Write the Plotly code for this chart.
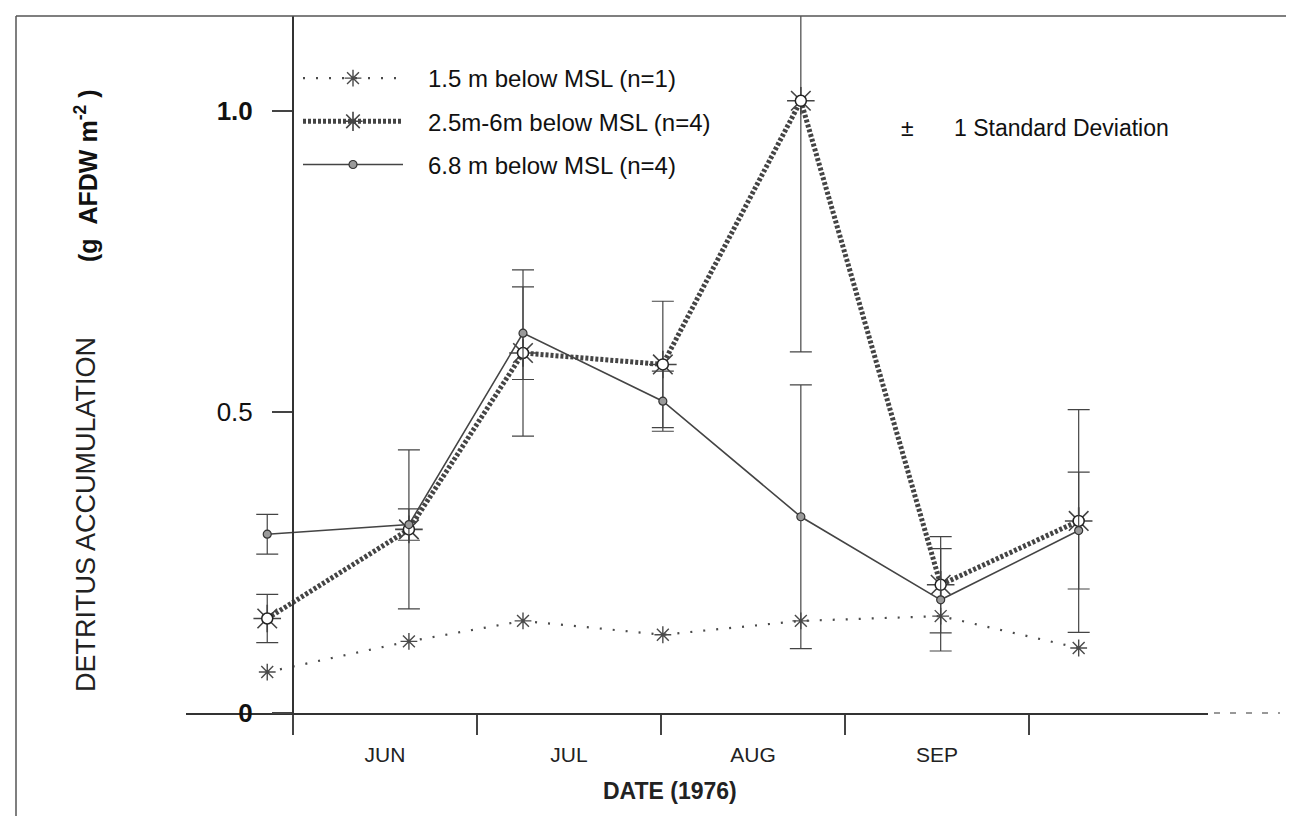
import plotly.graph_objects as go

# Sampling dates expressed in months after 1 June 1976 (month boundaries are ticks)
sample_month = [-0.14, 0.63, 1.25, 2.01, 2.76, 3.52, 4.27]

shallow_1_5m = [0.068, 0.119, 0.153, 0.130, 0.153, 0.161, 0.108]

mid_2_5_6m = [0.157, 0.305, 0.598, 0.579, 1.017, 0.213, 0.319]
mid_2_5_6m_sd = [0.040, 0.132, 0.138, 0.105, 0.417, 0.080, 0.185]

deep_6_8m = [0.297, 0.313, 0.631, 0.518, 0.326, 0.188, 0.303]
deep_6_8m_sd = [0.033, 0.026, 0.077, 0.050, 0.219, 0.085, 0.097]

month_labels = ["JUN", "JUL", "AUG", "SEP"]
month_label_pos = [0.5, 1.5, 2.5, 3.5]

y_tick_vals = [0, 0.5, 1.0]
y_tick_text = ["<b>0</b>", "0.5", "<b>1.0</b>"]

FONT = "Liberation Sans, Arial, sans-serif"
SP = "\u00a0\u00a0\u00a0"
NB = "\u00a0"

fig = go.Figure()

# 1.5 m series (dotted line, asterisks)
fig.add_trace(go.Scatter(
    x=sample_month, y=shallow_1_5m, mode="lines+markers",
    name=SP + "1.5 m below MSL (n=1)", legendgroup="a",
    line=dict(color="#4a4a4a", width=2.2, dash="2px,11px"),
    marker=dict(symbol="asterisk-open", size=14,
                line=dict(color="#333333", width=1.4)),
))

# 2.5m-6m series (heavy hatched line, sun markers)
fig.add_trace(go.Scatter(
    x=sample_month, y=mid_2_5_6m, mode="lines+markers",
    name=SP + "2.5m-6m below MSL (n=4)", legendgroup="b",
    line=dict(color="#444444", width=5, dash="3px,2px"),
    marker=dict(symbol="asterisk-open", size=23,
                line=dict(color="#222222", width=1.6)),
    error_y=dict(type="data", array=mid_2_5_6m_sd, visible=True,
                 color="#444444", thickness=1.2, width=11),
))
fig.add_trace(go.Scatter(
    x=sample_month, y=mid_2_5_6m, mode="markers", showlegend=False,
    legendgroup="b", hoverinfo="skip",
    marker=dict(symbol="circle", size=11, color="white",
                line=dict(color="#222222", width=1.5)),
))

# 6.8 m series (solid line, small dots)
fig.add_trace(go.Scatter(
    x=sample_month, y=deep_6_8m, mode="lines+markers",
    name=SP + "6.8 m below MSL (n=4)", legendgroup="c",
    line=dict(color="#444444", width=1.6),
    marker=dict(symbol="circle", size=8, color="#9a9a9a",
                line=dict(color="#333333", width=1.2)),
    error_y=dict(type="data", array=deep_6_8m_sd, visible=True,
                 color="#444444", thickness=1.2, width=11),
))

L, R, T, B = 178, 94, 8, 111
W = 1294 - L - R
H = 816 - T - B


def px(xp):
    return (xp - L) / W


def py(yp):
    return (816 - B - yp) / H


fig.update_layout(
    width=1294, height=816,
    margin=dict(l=L, r=R, t=T, b=B),
    paper_bgcolor="white", plot_bgcolor="white",
    font=dict(family=FONT, color="#111111"),
    showlegend=True,
    legend=dict(
        x=px(290), y=py(48), xanchor="left", yanchor="top",
        bgcolor="rgba(0,0,0,0)", font=dict(size=24, family=FONT, color="#111111"),
        itemwidth=100, tracegroupgap=9, traceorder="grouped",
    ),
    xaxis=dict(
        range=[(178 - 285) / 184, (1200 - 285) / 184],
        showgrid=False, zeroline=False,
        showline=True, linecolor="#333333", linewidth=2,
        tickmode="array", tickvals=month_label_pos, ticktext=month_labels,
        ticks="", ticklabelstandoff=22,
        tickfont=dict(family=FONT, size=21, color="#222222"),
        minor=dict(tickmode="linear", tick0=0, dtick=1, ticks="outside",
                   ticklen=20, tickwidth=1.5, tickcolor="#444444", showgrid=False),
    ),
    yaxis=dict(
        range=[0, (705 - 8) / 602],
        anchor="free", position=(285 - L) / W,
        showgrid=False, zeroline=False,
        showline=True, linecolor="#333333", linewidth=2,
        tickmode="array", tickvals=y_tick_vals, ticktext=y_tick_text,
        ticks="outside", ticklen=20, tickwidth=1.5, tickcolor="#444444",
        ticklabelstandoff=14,
        tickfont=dict(family=FONT, size=26, color="#111111"),
    ),
    annotations=[
        dict(text="DETRITUS ACCUMULATION", xref="paper", yref="paper",
             x=px(78), y=py(507), xanchor="center", yanchor="middle",
             textangle=-90, showarrow=False,
             font=dict(family=FONT, size=27, color="#222222")),
        dict(text="<b>(g" + NB + NB + "AFDW" + NB + "m<sup>-2</sup>" + NB + ")</b>",
             xref="paper", yref="paper",
             x=px(78), y=py(168), xanchor="center", yanchor="middle",
             textangle=-90, showarrow=False,
             font=dict(family=FONT, size=25, color="#111111")),
        dict(text="<b>DATE (1976)</b>", xref="paper", yref="paper",
             x=px(662), y=py(783), xanchor="center", yanchor="middle",
             showarrow=False, font=dict(family=FONT, size=23, color="#222222")),
        dict(text="±", xref="paper", yref="paper", x=px(899), y=py(120),
             xanchor="center", yanchor="middle",
             showarrow=False, font=dict(family=FONT, size=23, color="#111111")),
        dict(text="1 Standard Deviation", xref="paper", yref="paper",
             x=px(944), y=py(120), xanchor="left", yanchor="middle",
             showarrow=False, font=dict(family=FONT, size=23, color="#111111")),
    ],
    shapes=[
        dict(type="line", xref="paper", yref="paper",
             x0=px(8), x1=px(8), y0=py(8), y1=py(816),
             line=dict(color="#555555", width=1.5)),
        dict(type="line", xref="paper", yref="paper",
             x0=px(8), x1=px(1294), y0=py(8), y1=py(8),
             line=dict(color="#555555", width=1.5)),
        dict(type="line", xref="paper", yref="paper",
             x0=px(1206), x1=px(1272), y0=0, y1=0,
             line=dict(color="#777777", width=1.5, dash="6px,10px")),
    ],
)

fig.write_html("out.html")
